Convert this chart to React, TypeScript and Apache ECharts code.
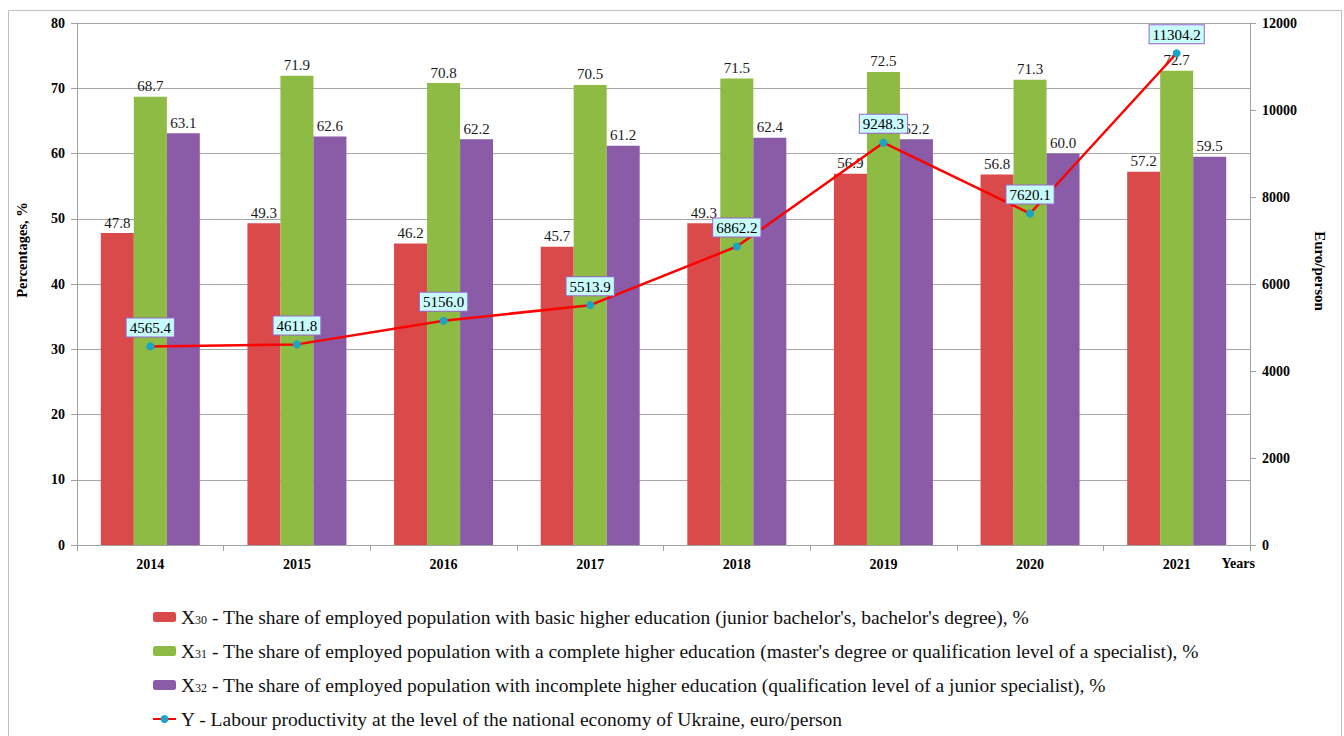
import React, { useEffect, useRef } from "react";
import * as echarts from "echarts";

const years = ["2014", "2015", "2016", "2017", "2018", "2019", "2020", "2021"];
const x30 = [47.8, 49.3, 46.2, 45.7, 49.3, 56.9, 56.8, 57.2];
const x31 = [68.7, 71.9, 70.8, 70.5, 71.5, 72.5, 71.3, 72.7];
const x32 = [63.1, 62.6, 62.2, 61.2, 62.4, 62.2, 60.0, 59.5];
const yProd = [4565.4, 4611.8, 5156.0, 5513.9, 6862.2, 9248.3, 7620.1, 11304.2];

const leftTicks = { min: 0, max: 80, interval: 10 };
const rightTicks = { min: 0, max: 12000, interval: 2000 };

const names = [
  "X30 - The share of employed population with basic higher education (junior bachelor's, bachelor's degree), %",
  "X31 - The share of employed population with a complete higher education (master's degree or qualification level of a specialist), %",
  "X32 - The share of employed population with incomplete higher education (qualification level of a junior specialist), %",
  "Y - Labour productivity at the level of the national economy of Ukraine, euro/person",
];

const FONT = "Liberation Serif";

export default function App() {
  const ref = useRef<HTMLDivElement>(null);
  useEffect(() => {
    if (!ref.current) return;
    const chart = echarts.init(ref.current, null, { renderer: "svg" });
    const barLabel = {
      show: true,
      position: "top",
      distance: 3,
      fontFamily: FONT,
      fontSize: 15,
      color: "#1a1a1a",
      formatter: (p: any) => Number(p.value).toFixed(1),
    };
    const barSeries = (name: string, data: number[], color: string) => ({
      name,
      type: "bar",
      data,
      barWidth: 33,
      barGap: "0%",
      itemStyle: { color },
      label: barLabel,
      z: 2,
    });
    chart.setOption({
      animation: false,
      backgroundColor: "#fff",
      textStyle: { fontFamily: FONT },
      graphic: [
        {
          type: "rect",
          shape: { x: 8.5, y: 10.5, width: 1333, height: 760 },
          style: { fill: "none", stroke: "#BFBFBF", lineWidth: 1 },
          silent: true,
        },
      ],
      grid: { left: 77, right: 94, top: 23, bottom: 191 },
      legend: {
        orient: "vertical",
        left: 152,
        top: 606,
        padding: 0,
        height: 130,
        itemWidth: 23,
        itemHeight: 10,
        itemGap: 12,
        data: names,
        formatter: (name: string) => name.replace(/^X(\d\d)/, "X{s|$1}"),
        textStyle: {
          fontFamily: FONT,
          fontSize: 19.5,
          lineHeight: 22,
          color: "#111",
          rich: {
            s: { fontFamily: FONT, fontSize: 12, lineHeight: 15, color: "#111", padding: [5, 0, 0, 0] },
          },
        },
      },
      xAxis: {
        type: "category",
        data: years,
        name: "Years",
        nameLocation: "end",
        nameGap: 5,
        nameTextStyle: {
          fontFamily: FONT,
          fontSize: 14,
          fontWeight: "bold",
          color: "#000",
          align: "right",
          verticalAlign: "top",
          padding: [11, 0, 0, 0],
        },
        axisLine: { lineStyle: { color: "#A0A0A0" } },
        axisTick: { show: true, length: 6, lineStyle: { color: "#A0A0A0" } },
        axisLabel: {
          fontFamily: FONT,
          fontSize: 14,
          fontWeight: "bold",
          color: "#000",
          margin: 12,
        },
      },
      yAxis: [
        {
          type: "value",
          ...leftTicks,
          name: "Percentages, %",
          nameLocation: "middle",
          nameGap: 48,
          nameTextStyle: {
            fontFamily: FONT,
            fontSize: 14.5,
            fontWeight: "bold",
            color: "#000",
            padding: [0, 0, 0, 68],
          },
          axisLine: { show: true, lineStyle: { color: "#A0A0A0" } },
          axisTick: { show: true, length: 6, lineStyle: { color: "#A0A0A0" } },
          splitLine: { show: true, lineStyle: { color: "#A6A6A6" } },
          axisLabel: { fontFamily: FONT, fontSize: 14, fontWeight: "bold", color: "#000", margin: 12 },
        },
        {
          type: "value",
          ...rightTicks,
          position: "right",
          name: "Euro/person",
          nameLocation: "middle",
          nameGap: 62,
          nameRotate: -90,
          nameTextStyle: {
            fontFamily: FONT,
            fontSize: 15,
            fontWeight: "bold",
            color: "#000",
            padding: [0, 26, 0, 0],
          },
          axisLine: { show: true, lineStyle: { color: "#A0A0A0" } },
          axisTick: { show: true, length: 6, lineStyle: { color: "#A0A0A0" } },
          splitLine: { show: false },
          axisLabel: {
            fontFamily: FONT,
            fontSize: 14,
            fontWeight: "bold",
            color: "#000",
            margin: 12,
            formatter: (v: number) => String(v),
          },
        },
      ],
      series: [
        barSeries(names[0], x30, "#DA4A4B"),
        barSeries(names[1], x31, "#8DBB43"),
        barSeries(names[2], x32, "#8A5CA7"),
        {
          name: names[3],
          type: "line",
          yAxisIndex: 1,
          data: yProd,
          symbol: "circle",
          symbolSize: 8,
          lineStyle: { color: "#FF0000", width: 2.5 },
          itemStyle: { color: "#1BA4C4" },
          z: 5,
          label: {
            show: true,
            position: "top",
            distance: 6,
            fontFamily: FONT,
            fontSize: 15,
            color: "#000",
            backgroundColor: "#C8FCFC",
            borderColor: "#9966CC",
            borderWidth: 1,
            padding: [2, 3, 1, 3],
            formatter: (p: any) => Number(p.value).toFixed(1),
          },
        },
      ],
    });
    return () => chart.dispose();
  }, []);
  return (
    <div
      ref={ref}
      style={{ position: "fixed", left: 0, top: 0, width: 1344, height: 736, background: "#fff" }}
    />
  );
}
